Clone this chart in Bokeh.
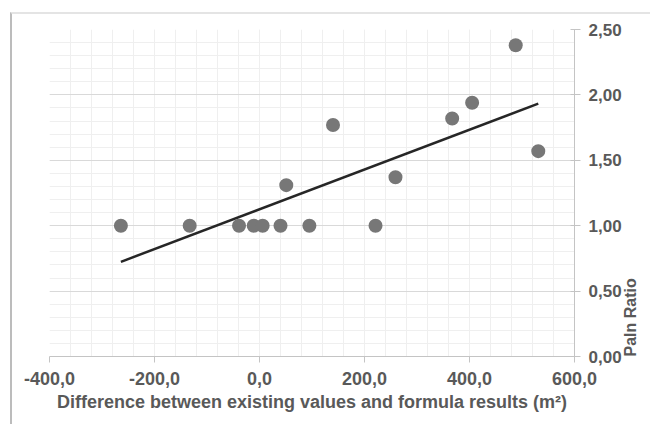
import numpy as np
from bokeh.plotting import figure
from bokeh.models import FixedTicker, Range1d, ColumnDataSource
from bokeh.embed import file_html
from bokeh.resources import INLINE

# ---- data ----
diff_m2 = [-264, -133, -39, -11, 6, 40, 51, 95, 140, 221, 259, 367, 405, 488, 531]
paln_ratio = [1.00, 1.00, 1.00, 1.00, 1.00, 1.00, 1.31, 1.00, 1.77, 1.00, 1.37, 1.82, 1.94, 2.38, 1.57]

x_ticks = [-400, -200, 0, 200, 400, 600]
x_tick_labels = ["-400,0", "-200,0", "0,0", "200,0", "400,0", "600,0"]
x_minor = [-400 + 40 * i for i in range(26)]
y_ticks = [0.0, 0.5, 1.0, 1.5, 2.0, 2.5]
y_tick_labels = ["0,00", "0,50", "1,00", "1,50", "2,00", "2,50"]
y_minor = [round(0.1 * i, 1) for i in range(26)]

x_title = "Difference between existing values and formula results (m²)"
y_title = "Paln Ratio"

FONT = "Liberation Sans"
TXT = "#595959"

p = figure(width=640, height=412, output_backend="svg", toolbar_location=None,
           x_range=Range1d(-400, 600), y_range=Range1d(0, 2.5),
           y_axis_location="right",
           min_border_left=37, min_border_right=78, min_border_top=15, min_border_bottom=70,
           margin=(12, 0, 0, 10))
p.styles = {"border-left": "2px solid #bcbcbc", "border-top": "2px solid #e4e4e4"}
p.outline_line_color = None
p.background_fill_color = "white"
p.border_fill_color = "white"

p.xaxis.ticker = FixedTicker(ticks=x_ticks, minor_ticks=x_minor)
p.yaxis.ticker = FixedTicker(ticks=y_ticks, minor_ticks=y_minor)
p.xaxis.major_label_overrides = dict(zip(x_ticks, x_tick_labels))
p.yaxis.major_label_overrides = dict(zip(y_ticks, y_tick_labels))

for ax in (p.xaxis, p.yaxis):
    ax.axis_line_color = "#c4c4c4"
    ax.major_tick_line_color = "#c4c4c4"
    ax.minor_tick_line_color = None
    ax.major_label_text_font = FONT
    ax.major_label_text_font_style = "bold"
    ax.major_label_text_font_size = "18px"
    ax.major_label_text_color = TXT
    ax.axis_label_text_font = FONT
    ax.axis_label_text_font_style = "bold"
    ax.axis_label_text_font_size = "18px"
    ax.axis_label_text_color = TXT
p.xaxis.major_tick_in = 0
p.xaxis.major_tick_out = 6
p.xaxis.major_label_standoff = 9
p.yaxis.major_tick_in = 4
p.yaxis.major_tick_out = 6
p.yaxis.major_label_standoff = 8
p.yaxis.major_label_text_font_size = "17px"

p.xaxis.axis_label = x_title
p.xaxis.axis_label_standoff = 4

# y-axis title: right of the tick labels, starting at the bottom, read upwards
ya = p.yaxis[0]
ya.axis_label = y_title
ya.axis_label_text_font_size = "16px"
ya.axis_label_standoff = 6
ya.axis_label_orientation = np.pi / 2
if "axis_label_align" in ya.properties():
    ya.axis_label_align = "start"

p.xgrid.grid_line_color = "#efefef"
p.xgrid.minor_grid_line_color = "#efefef"
p.ygrid.grid_line_color = "#d9d9d9"
p.ygrid.minor_grid_line_color = "#efefef"

# trend line (least squares, as the spreadsheet's linear trendline)
slope, intercept = np.polyfit(diff_m2, paln_ratio, 1)
tx = [min(diff_m2), max(diff_m2)]
ty = [slope * v + intercept for v in tx]
p.line(tx, ty, line_color="#262626", line_width=2.5)

src = ColumnDataSource(dict(x=diff_m2, y=paln_ratio))
p.scatter("x", "y", source=src, size=14, fill_color="#777777", line_color=None)

open("out.html", "w").write(file_html(p, INLINE))
